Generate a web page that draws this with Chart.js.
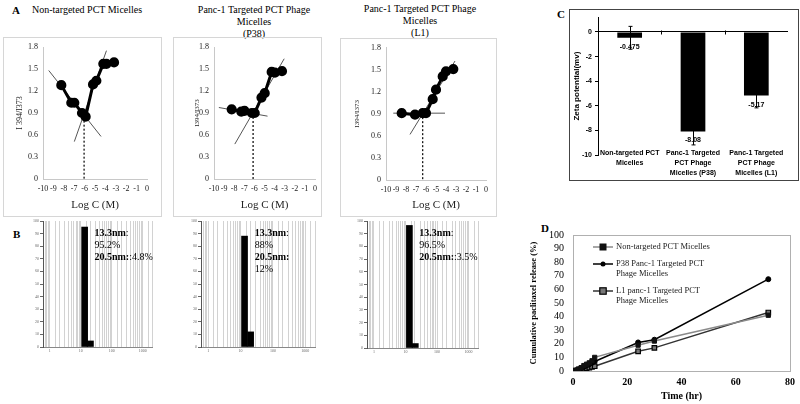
<!DOCTYPE html>
<html>
<head>
<meta charset="utf-8">
<script src="https://cdn.jsdelivr.net/npm/chart.js@4/dist/chart.umd.min.js"></script>
<style>
  body { margin: 0; background: #fff; }
  #fig { position: relative; width: 800px; height: 404px; overflow: hidden; font-family: "Liberation Serif", serif; color: #000; }
  canvas { position: absolute; }
  .tag { position: absolute; font-weight: bold; font-size: 11px; }
  .ttl { position: absolute; font-size: 10px; line-height: 12px; text-align: center; }
  .box { position: absolute; box-sizing: border-box; border: 1px solid #d6d6d6; }
</style>
</head>
<body>
<div id="fig">
  <div class="tag" style="left:12px;top:4px">A</div>
  <div class="ttl" style="left:32px;top:4px;text-align:left">Non-targeted PCT Micelles</div>
  <div class="ttl" style="left:174px;top:4px;width:160px">Panc-1 Targeted PCT Phage<br>Micelles<br>(P38)</div>
  <div class="ttl" style="left:340px;top:3px;width:160px">Panc-1 Targeted PCT Phage<br>Micelles<br>(L1)</div>
  <div class="tag" style="left:13px;top:228px">B</div>
  <div class="tag" style="left:557px;top:8px">C</div>
  <div class="tag" style="left:541px;top:222px">D</div>

  <div class="box" style="left:3px;top:37px;width:159px;height:180px"></div>
  <div class="box" style="left:173px;top:37px;width:149px;height:180px"></div>
  <div class="box" style="left:340px;top:38px;width:157px;height:179px"></div>
  <canvas id="a1" width="159" height="180" style="left:3px;top:37px"></canvas>
  <canvas id="a2" width="149" height="180" style="left:173px;top:37px"></canvas>
  <canvas id="a3" width="157" height="179" style="left:340px;top:38px"></canvas>

  <canvas id="b1" width="135" height="144" style="left:25px;top:213px"></canvas>
  <canvas id="b2" width="140" height="144" style="left:180px;top:213px"></canvas>
  <canvas id="b3" width="140" height="144" style="left:345px;top:213px"></canvas>

  <div class="box" style="left:569px;top:9px;width:230px;height:172px;border-color:#444"></div>
  <canvas id="c" width="228" height="170" style="left:570px;top:10px"></canvas>

  <canvas id="d" width="272" height="184" style="left:528px;top:220px"></canvas>
</div>

<script>
// ---- A: I394/I373 vs log C ----
const ntLogC = [-8.24, -7.28, -6.99, -6.25, -5.9, -5.19, -4.87, -4.2, -3.9, -3.17];
const ntRatio = [1.28, 1.04, 1.04, 0.90, 0.85, 1.29, 1.34, 1.57, 1.57, 1.59];
const ntFitLowX = [-9.45, -4.42], ntFitLowY = [1.48, 0.58];
const ntFitHighX = [-6.99, -3.9], ntFitHighY = [0.51, 1.75];
const ntCmc = -6.05, ntCmcRatio = 0.85;

const p38LogC = [-8.25, -7.3, -6.98, -6.25, -5.97, -5.3, -4.98, -4.29, -3.97, -3.27];
const p38Ratio = [0.95, 0.92, 0.93, 0.90, 0.90, 1.11, 1.17, 1.46, 1.45, 1.47];
const p38FitLowX = [-9.52, -4.7], p38FitLowY = [0.975, 0.857];
const p38FitHighX = [-7.94, -3.05], p38FitHighY = [0.476, 1.64];
const p38Cmc = -6.13, p38CmcRatio = 0.90;

const l1LogC = [-8.43, -7.1, -6.33, -6.0, -5.33, -5.0, -4.33, -4.0, -3.27];
const l1Ratio = [0.91, 0.89, 0.91, 0.91, 1.10, 1.23, 1.41, 1.48, 1.51];
const l1FitLowX = [-9.27, -4.1], l1FitLowY = [0.91, 0.91];
const l1FitHighX = [-7.6, -3.1], l1FitHighY = [0.62, 1.62];
const l1Cmc = -6.33, l1CmcRatio = 0.91;

// ---- B: size distribution (nm, % number) ----
const dlsSizes = [13.3, 20.5];
const ntNumber = [95.2, 4.8];
const p38Number = [88, 12];
const l1Number = [96.5, 3.5];
const sizeDecades = [1, 10, 100, 1000];

// ---- C: zeta potential ----
const zetaLabels = [['Non-targeted PCT', 'Micelles'], ['Panc-1 Targeted', 'PCT Phage', 'Micelles (P38)'], ['Panc-1 Targeted', 'PCT Phage', 'Micelles (L1)']];
const zetaMeans = [-0.475, -8.08, -5.17];
const zetaErr = [0.93, 1.1, 1.0];
const zetaTicks = [0, -2, -4, -6, -8, -10];

// ---- D: release ----
const releaseHours = [1, 2, 3, 4, 5, 6, 7, 8, 24, 30, 72];
const ntRelease = [0.5, 1.5, 2.5, 4, 5, 6, 7.5, 10, 19, 22, 41];
const p38Release = [0.3, 1, 2, 3, 4, 5, 6, 7, 21, 23, 67.5];
const l1Release = [0.2, 0.6, 1, 1.5, 2, 2.5, 3, 3.5, 14.5, 17, 43];
const releaseNames = ['Non-targeted PCT Micelles', 'P38 Panc-1 Targeted PCT Phage Micelles', 'L1 panc-1 Targeted PCT Phage Micelles'];

Chart.defaults.font.family = '"Liberation Serif", serif';
Chart.defaults.color = '#000';
Chart.defaults.animation = false;
Chart.defaults.responsive = false;
Chart.defaults.plugins.legend.display = false;
Chart.defaults.plugins.tooltip.enabled = false;

const pts = (xs, ys) => xs.map((x, i) => ({ x, y: ys[i] }));

function cmcChart(id, xs, ys, lowX, lowY, highX, highY, cmc, cmcY, g) {
  new Chart(document.getElementById(id), {
    type: 'scatter',
    data: {
      datasets: [
        { data: pts(xs, ys), showLine: true, borderColor: '#000', backgroundColor: '#000', borderWidth: 3, pointRadius: 3.6 },
        { data: pts(lowX, lowY), showLine: true, borderColor: '#555', borderWidth: 1, pointRadius: 0 },
        { data: pts(highX, highY), showLine: true, borderColor: '#555', borderWidth: 1, pointRadius: 0 },
        { data: pts([cmc, cmc], [cmcY, 0]), showLine: true, borderColor: '#000', borderWidth: 1.2, borderDash: [2, 2], pointRadius: 0 }
      ]
    },
    options: {
      layout: { padding: { left: 0, right: g.r, top: g.t, bottom: 0 } },
      scales: {
        x: {
          min: -10, max: 0,
          grid: { display: false, drawTicks: false },
          border: { color: '#c8c8c8' },
          ticks: { stepSize: 1, autoSkip: false, maxRotation: 0, minRotation: 0, padding: 5, font: { size: 8 }, color: '#222' },
          title: { display: true, text: 'Log C (M)', font: { size: 11 }, padding: { top: 0, bottom: 5 }, color: '#222' },
          afterFit: s => { s.height = g.h; }
        },
        y: {
          min: 0, max: 1.8,
          grid: { display: false, drawTicks: false },
          border: { color: '#c8c8c8' },
          ticks: { stepSize: 0.3, autoSkip: false, padding: 5, font: { size: 8 }, color: '#222', callback: v => v === 0 ? '0' : v.toFixed(1) },
          title: { display: true, text: g.ytitle, font: { size: g.yfs }, padding: { top: g.yp, bottom: 0 }, color: '#222' },
          afterFit: s => { s.width = g.w; }
        }
      }
    }
  });
}

cmcChart('a1', ntLogC, ntRatio, ntFitLowX, ntFitLowY, ntFitHighX, ntFitHighY, ntCmc, ntCmcRatio,
  { w: 40, r: 15, t: 10, h: 38, ytitle: 'I 394/I373', yfs: 8, yp: 12 });
cmcChart('a2', p38LogC, p38Ratio, p38FitLowX, p38FitLowY, p38FitHighX, p38FitHighY, p38Cmc, p38CmcRatio,
  { w: 41, r: 3, t: 10, h: 38, ytitle: 'I394/I373', yfs: 7, yp: 20 });
cmcChart('a3', l1LogC, l1Ratio, l1FitLowX, l1FitLowY, l1FitHighX, l1FitHighY, l1Cmc, l1CmcRatio,
  { w: 46, r: 11, t: 9, h: 37, ytitle: 'I394/I373', yfs: 7, yp: 13 });

// text next to the histogram bars
const dlsNote = {
  id: 'dlsNote',
  afterDatasetsDraw(chart, args, opts) {
    const { ctx, chartArea, scales } = chart;
    const x0 = scales.x.getPixelForValue(dlsSizes[1]) + 4;
    ctx.save();
    ctx.textBaseline = 'middle';
    ctx.fillStyle = '#000';
    opts.lines.forEach((segs, i) => {
      let x = x0;
      const y = chartArea.top + 12 + i * 12;
      segs.forEach(([txt, bold]) => {
        ctx.font = (bold ? 'bold ' : '') + '10px "Liberation Serif"';
        ctx.fillText(txt, x, y);
        x += ctx.measureText(txt).width;
      });
    });
    ctx.restore();
  }
};

function dlsChart(id, pct, lines, g) {
  new Chart(document.getElementById(id), {
    type: 'bar',
    data: { datasets: [{ data: pts(dlsSizes, pct), backgroundColor: '#000', barThickness: 6 }] },
    options: {
      layout: { padding: { left: 0, right: g.r, top: g.t, bottom: 0 } },
      scales: {
        x: {
          type: 'logarithmic', min: 0.6, max: 2000, offset: false,
          grid: { color: '#d2d2d2', offset: false, drawTicks: false },
          border: { color: '#888' },
          ticks: { autoSkip: false, maxRotation: 0, minRotation: 0, padding: 2, font: { size: 4 }, color: '#666',
            callback: v => sizeDecades.includes(v) ? String(v) : '' },
          afterFit: s => { s.height = g.h; }
        },
        y: {
          min: 0, max: 100,
          grid: { drawOnChartArea: false, tickLength: 3, color: '#666' },
          border: { color: '#555' },
          ticks: { stepSize: 10, autoSkip: false, padding: 1, font: { size: 4 }, color: '#666' },
          afterFit: s => { s.width = g.w; }
        }
      },
      plugins: { dlsNote: { lines } }
    },
    plugins: [dlsNote]
  });
}

const nm = v => v + 'nm';
const pc = v => v + '%';
dlsChart('b1', ntNumber, [[[nm(dlsSizes[0]), true], [':', false]], [[pc(ntNumber[0]), false]], [[nm(dlsSizes[1]) + ':', true], [':' + pc(ntNumber[1]), false]]],
  { w: 18, r: 8, t: 8, h: 10 });
dlsChart('b2', p38Number, [[[nm(dlsSizes[0]), true], [':', false]], [[pc(p38Number[0]), false]], [[nm(dlsSizes[1]) + ':', true]], [[pc(p38Number[1]), false]]],
  { w: 21, r: 5, t: 8, h: 10 });
dlsChart('b3', l1Number, [[[nm(dlsSizes[0]), true], [':', false]], [[pc(l1Number[0]), false]], [[nm(dlsSizes[1]) + ':', true], [':' + pc(l1Number[1]), false]]],
  { w: 22, r: 7, t: 8, h: 9 });

// error bars, value labels, category labels and zero-line ticks on the zeta chart
const zetaExtras = {
  id: 'zetaExtras',
  afterDatasetsDraw(chart) {
    const { ctx, chartArea } = chart;
    const y = chart.scales.y, x = chart.scales.x;
    const meta = chart.getDatasetMeta(0);
    const y0 = Math.round(y.getPixelForValue(0)) + 0.5;
    ctx.save();
    ctx.strokeStyle = '#000';
    ctx.lineWidth = 1;
    ctx.beginPath();
    for (let i = 1; i < zetaLabels.length; i++) {
      const bx = Math.round((x.getPixelForValue(i - 1) + x.getPixelForValue(i)) / 2) + 0.5;
      ctx.moveTo(bx, y0 - 2); ctx.lineTo(bx, y0 + 2);
    }
    ctx.stroke();
    ctx.font = 'bold 7px "Liberation Sans"';
    ctx.textAlign = 'center';
    ctx.textBaseline = 'middle';
    meta.data.forEach((bar, i) => {
      const v = zetaMeans[i], e = zetaErr[i];
      ctx.fillStyle = '#000';
      ctx.fillText(String(v), bar.x, bar.y + 9);
      const y1 = y.getPixelForValue(v + e), y2 = y.getPixelForValue(v - e);
      const bx = Math.round(bar.x) + 0.5;
      ctx.beginPath();
      ctx.moveTo(bx, y1); ctx.lineTo(bx, y2);
      ctx.moveTo(bx - 2, y1); ctx.lineTo(bx + 2, y1);
      ctx.moveTo(bx - 2, y2); ctx.lineTo(bx + 2, y2);
      ctx.stroke();
      zetaLabels[i].forEach((line, k) => ctx.fillText(line, x.getPixelForValue(i), chartArea.bottom - 2 + k * 10));
    });
    ctx.restore();
  }
};

new Chart(document.getElementById('c'), {
  type: 'bar',
  data: { labels: zetaLabels, datasets: [{ data: zetaMeans, backgroundColor: '#000', barPercentage: 0.39, categoryPercentage: 1 }] },
  options: {
    layout: { padding: { left: 0, right: 10, top: 3, bottom: 0 } },
    scales: {
      x: {
        grid: { display: false, drawTicks: false },
        border: { display: false },
        ticks: { display: false },
        afterFit: s => { s.height = 25; }
      },
      y: {
        min: -10, max: 1.2,
        afterBuildTicks: s => { s.ticks = zetaTicks.map(value => ({ value })); },
        grid: { color: c => (c.tick && c.tick.value === 0) ? '#000' : 'rgba(0,0,0,0)', tickColor: '#000', tickLength: 3 },
        border: { color: '#000' },
        ticks: { padding: 3, font: { family: '"Liberation Sans"', size: 7, weight: 'bold' }, color: '#000' },
        title: { display: true, text: 'Zeta potential(mv)', font: { family: '"Liberation Sans"', size: 8, weight: 'bold' }, padding: { top: 2, bottom: 0 } },
        afterFit: s => { s.width = 28; }
      }
    }
  },
  plugins: [zetaExtras]
});

// plot frame and in-plot legend for the release chart
const plotFrame = {
  id: 'plotFrame',
  beforeDatasetsDraw(chart) {
    const { ctx, chartArea: a } = chart;
    ctx.save();
    ctx.strokeStyle = '#b0b0b0';
    ctx.lineWidth = 1;
    ctx.strokeRect(Math.round(a.left) + 0.5, Math.round(a.top) + 0.5, Math.round(a.right - a.left), Math.round(a.bottom - a.top));
    ctx.restore();
  }
};

function wrapText(ctx, text, maxW) {
  const words = text.split(' ');
  const out = [];
  let line = '';
  words.forEach(w => {
    const test = line ? line + ' ' + w : w;
    if (ctx.measureText(test).width > maxW && line) { out.push(line); line = w; } else { line = test; }
  });
  out.push(line);
  return out;
}

const releaseLegend = {
  id: 'releaseLegend',
  afterDraw(chart) {
    const { ctx, chartArea } = chart;
    const x0 = chartArea.left + 20, tx = chartArea.left + 43;
    let y = chartArea.top + 12;
    ctx.save();
    ctx.font = '8.5px "Liberation Serif"';
    ctx.textBaseline = 'middle';
    chart.data.datasets.forEach(ds => {
      ctx.strokeStyle = ds.borderColor;
      ctx.lineWidth = ds.borderWidth;
      ctx.beginPath(); ctx.moveTo(x0, y); ctx.lineTo(x0 + 20, y); ctx.stroke();
      ctx.fillStyle = ds.pointBackgroundColor;
      ctx.strokeStyle = ds.pointBorderColor;
      ctx.lineWidth = ds.pointBorderWidth;
      const r = ds.pointRadius;
      if (ds.pointStyle === 'rect') {
        ctx.fillRect(x0 + 10 - r, y - r, 2 * r, 2 * r);
        ctx.strokeRect(x0 + 10 - r, y - r, 2 * r, 2 * r);
      } else {
        ctx.beginPath(); ctx.arc(x0 + 10, y, r, 0, Math.PI * 2); ctx.fill();
      }
      ctx.fillStyle = '#222';
      const lines = wrapText(ctx, ds.label, 100);
      lines.forEach((l, k) => ctx.fillText(l, tx, y + k * 10));
      y += lines.length * 10 + 7;
    });
    ctx.restore();
  }
};

new Chart(document.getElementById('d'), {
  type: 'line',
  data: {
    datasets: [
      { label: releaseNames[0], data: pts(releaseHours, ntRelease), borderColor: '#8a8a8a', borderWidth: 1.5,
        pointStyle: 'rect', pointRadius: 3, pointBackgroundColor: '#111', pointBorderColor: '#111', pointBorderWidth: 1 },
      { label: releaseNames[1], data: pts(releaseHours, p38Release), borderColor: '#000', borderWidth: 1.5,
        pointStyle: 'circle', pointRadius: 2.5, pointBackgroundColor: '#000', pointBorderColor: '#000', pointBorderWidth: 1 },
      { label: releaseNames[2], data: pts(releaseHours, l1Release), borderColor: '#333', borderWidth: 1.5,
        pointStyle: 'rect', pointRadius: 3.2, pointBackgroundColor: '#777', pointBorderColor: '#000', pointBorderWidth: 1.2 }
    ]
  },
  options: {
    layout: { padding: { left: 0, right: 7, top: 10, bottom: 0 } },
    scales: {
      x: {
        type: 'linear', min: 0, max: 80,
        grid: { display: false, drawTicks: false },
        border: { color: '#999' },
        ticks: { stepSize: 20, padding: 5, font: { size: 10, weight: 'bold' } },
        title: { display: true, text: 'Time (hr)', font: { size: 10, weight: 'bold' }, padding: { top: 0, bottom: 2 } },
        afterFit: s => { s.height = 33; }
      },
      y: {
        min: 0, max: 100,
        grid: { display: false, drawTicks: false },
        border: { color: '#999' },
        ticks: { stepSize: 10, autoSkip: false, padding: 9, font: { size: 10 } },
        title: { display: true, text: 'Cumulative paclitaxel release (%)', font: { size: 8.5, weight: 'bold' }, padding: { top: 1, bottom: 0 } },
        afterFit: s => { s.width = 45; }
      }
    }
  },
  plugins: [plotFrame, releaseLegend]
});
</script>
</body>
</html>
